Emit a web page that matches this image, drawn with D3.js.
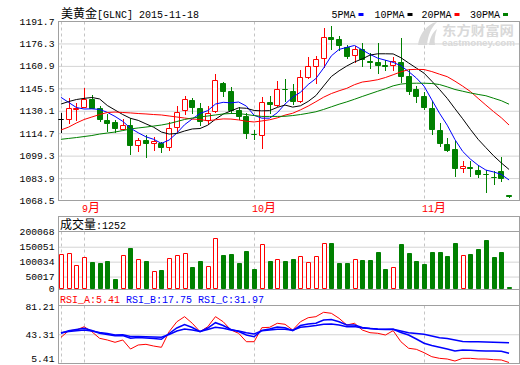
<!DOCTYPE html>
<html>
<head>
<meta charset="utf-8">
<script src="https://cdn.jsdelivr.net/npm/d3@7"></script>
<style>
  body { margin: 0; background: #fff; }
  svg { display: block; }
</style>
</head>
<body>
<div class="chart"></div>
<script>
// Daily candles (59 trading days, late Aug to 2015-11-18)
const opens = [1124.2, 1124.2, 1131.5, 1132.9, 1138.0, 1131.8, 1123.8, 1122.6, 1117.9, 1120.0,
    1106.6, 1110.0, 1108.3, 1107.8, 1104.9, 1118.9, 1130.3, 1137.8, 1132.0, 1123.8,
    1129.6, 1149.1, 1143.7, 1130.6, 1126.5, 1114.3, 1113.5, 1136.3, 1134.0, 1145.0,
    1143.7, 1137.1, 1153.6, 1160.8, 1166.1, 1180.5, 1179.1, 1173.6, 1168.4, 1172.3,
    1164.4, 1163.8, 1161.5, 1161.5, 1163.9, 1154.0, 1144.8, 1140.2, 1131.8, 1116.9,
    1107.3, 1103.6, 1090.6, 1091.5, 1089.4, 1087.0, 1084.6, 1088.7, 1072.3];
const highs = [1128.4, 1138.6, 1135.5, 1145.7, 1140.9, 1133.4, 1127.9, 1123.7, 1124.2, 1124.8,
    1111.4, 1113.5, 1112.1, 1108.9, 1122.6, 1133.4, 1140.2, 1138.6, 1135.1, 1133.4,
    1155.0, 1149.5, 1146.7, 1133.0, 1128.6, 1116.9, 1139.8, 1139.9, 1150.5, 1151.7,
    1148.5, 1157.9, 1166.8, 1167.7, 1186.6, 1188.3, 1181.4, 1175.2, 1174.5, 1176.3,
    1169.7, 1176.8, 1164.6, 1166.8, 1179.8, 1158.8, 1147.4, 1143.0, 1137.0, 1121.7,
    1111.1, 1109.3, 1095.6, 1095.8, 1093.2, 1089.4, 1088.7, 1098.6, 1072.6];
const lows = [1115.7, 1121.9, 1124.0, 1132.5, 1132.0, 1123.0, 1116.5, 1115.5, 1117.6, 1100.4,
    1102.5, 1098.4, 1103.2, 1102.0, 1103.5, 1116.2, 1127.9, 1128.6, 1120.0, 1122.0,
    1128.9, 1139.9, 1128.6, 1124.1, 1111.2, 1110.4, 1104.4, 1128.6, 1133.4, 1137.1,
    1134.7, 1136.3, 1152.4, 1149.3, 1160.3, 1172.3, 1171.5, 1166.6, 1163.6, 1160.8,
    1159.4, 1156.2, 1158.1, 1158.4, 1150.0, 1141.3, 1136.3, 1131.0, 1114.1, 1105.9,
    1102.5, 1085.3, 1088.3, 1085.3, 1084.6, 1074.5, 1079.8, 1082.1, 1071.2];
const closes = [1124.2, 1131.8, 1132.2, 1138.0, 1132.3, 1124.2, 1121.5, 1118.3, 1120.0, 1106.3,
    1110.0, 1108.2, 1109.0, 1105.0, 1118.1, 1128.9, 1138.0, 1132.5, 1123.4, 1128.4,
    1151.2, 1143.9, 1130.6, 1126.2, 1114.6, 1113.8, 1135.8, 1134.5, 1144.8, 1144.7,
    1137.1, 1153.1, 1160.8, 1165.4, 1180.5, 1179.3, 1174.9, 1167.7, 1172.3, 1165.4,
    1163.9, 1161.8, 1160.8, 1164.5, 1154.0, 1143.9, 1140.0, 1132.7, 1117.4, 1107.8,
    1103.2, 1090.6, 1092.2, 1090.8, 1086.7, 1086.7, 1084.3, 1083.7, 1071.6];
const volumes = [124700, 128000, 87800, 114600, 98900, 95500, 102200, 41900, 121300, 145800,
    108900, 102200, 67700, 72000, 111300, 121300, 128000, 82100, 102200, 84400,
    178300, 122300, 125700, 95500, 135700, 75400, 158200, 102200, 107900, 102200,
    108900, 118000, 97900, 118000, 161500, 162500, 95500, 95500, 107900, 105600,
    105600, 132400, 75400, 81100, 159200, 129000, 102200, 92200, 132400, 132400,
    119000, 162500, 121300, 125700, 142400, 172600, 115600, 132400, 1252];

// Moving averages as drawn
const ma5 = [1139.3, 1135.8, 1132.3, 1131.3, 1131.4, 1131.0, 1129.0, 1126.2, 1122.8, 1118.1,
    1115.0, 1112.2, 1110.5, 1107.7, 1110.0, 1114.8, 1120.5, 1124.5, 1128.2, 1130.2,
    1134.7, 1135.9, 1135.5, 1136.1, 1133.3, 1127.0, 1125.0, 1125.0, 1128.7, 1134.7,
    1139.4, 1142.8, 1148.1, 1152.2, 1159.4, 1167.8, 1172.2, 1173.6, 1174.9, 1171.9,
    1168.8, 1166.2, 1164.8, 1163.3, 1161.0, 1157.0, 1152.6, 1147.0, 1137.6, 1128.4,
    1120.2, 1110.3, 1102.2, 1096.9, 1092.7, 1089.4, 1088.1, 1086.4, 1082.6];
const ma10 = [1134.7, 1136.4, 1137.8, 1138.6, 1139.2, 1138.2, 1133.7, 1130.6, 1127.5, 1124.9,
    1123.5, 1121.1, 1118.8, 1115.5, 1114.1, 1114.5, 1116.2, 1117.6, 1117.9, 1120.2,
    1124.3, 1127.8, 1130.0, 1132.1, 1131.8, 1130.3, 1130.0, 1130.2, 1132.4, 1134.0,
    1132.6, 1133.5, 1136.5, 1140.5, 1147.1, 1153.6, 1157.5, 1160.8, 1163.6, 1165.7,
    1168.3, 1169.2, 1169.2, 1169.1, 1166.5, 1162.9, 1159.4, 1155.9, 1150.4, 1144.7,
    1138.6, 1131.5, 1124.6, 1117.3, 1110.5, 1104.8, 1099.2, 1094.3, 1089.8];
const ma20 = [1116.9, 1118.9, 1121.7, 1124.1, 1125.8, 1127.5, 1128.9, 1129.2, 1128.9, 1128.6,
    1128.2, 1127.9, 1127.5, 1127.2, 1126.5, 1125.8, 1125.1, 1124.4, 1124.1, 1123.2,
    1123.9, 1124.5, 1124.4, 1123.8, 1122.9, 1122.4, 1123.1, 1123.9, 1125.2, 1127.1,
    1128.4, 1130.7, 1133.3, 1136.3, 1139.4, 1141.9, 1143.8, 1145.5, 1148.0, 1149.8,
    1150.5, 1151.4, 1152.9, 1154.8, 1156.8, 1158.3, 1158.5, 1158.4, 1157.0, 1155.2,
    1153.5, 1150.4, 1147.0, 1143.3, 1138.6, 1134.0, 1129.5, 1125.3, 1120.3];
const ma30 = [1110.5, 1111.1, 1111.7, 1112.4, 1113.1, 1114.1, 1114.8, 1115.5, 1116.5, 1117.6,
    1118.3, 1118.9, 1119.6, 1120.3, 1121.3, 1122.7, 1124.1, 1125.1, 1125.8, 1126.5,
    1127.2, 1127.9, 1128.2, 1128.2, 1127.5, 1126.8, 1126.2, 1126.2, 1126.2, 1126.3,
    1126.8, 1127.5, 1128.4, 1129.4, 1131.0, 1132.8, 1134.6, 1136.2, 1138.0, 1139.9,
    1141.7, 1143.5, 1145.2, 1147.2, 1148.4, 1148.9, 1149.0, 1149.0, 1148.8, 1148.1,
    1146.5, 1144.7, 1143.5, 1142.3, 1141.3, 1140.4, 1138.7, 1137.0, 1134.6];

// RSI lines
const rsiA = [39.2, 48.1, 49.0, 53.4, 46.7, 37.9, 35.6, 32.5, 35.6, 23.5,
    28.9, 29.8, 27.5, 25.8, 46.7, 60.1, 66.9, 58.0, 46.7, 53.4,
    66.9, 60.1, 49.0, 44.6, 33.3, 33.3, 52.1, 52.6, 58.0, 56.7,
    49.0, 60.1, 65.5, 66.9, 72.8, 71.4, 64.7, 55.7, 58.0, 49.0,
    45.4, 44.6, 42.3, 48.1, 33.3, 24.5, 23.1, 18.6, 13.2, 11.0,
    10.1, 7.4, 11.0, 11.0, 10.1, 10.1, 9.2, 8.8, 5.41];
const rsiB = [44.6, 48.1, 49.7, 51.3, 48.3, 44.6, 43.0, 41.4, 41.6, 37.9,
    38.9, 38.3, 37.6, 36.5, 44.3, 51.7, 56.4, 52.4, 46.7, 51.7,
    58.8, 55.0, 49.7, 47.0, 42.3, 40.0, 48.3, 50.3, 53.0, 52.1,
    48.1, 55.0, 57.1, 58.0, 62.4, 63.1, 60.1, 55.7, 55.7, 52.4,
    51.0, 49.9, 49.7, 49.9, 45.6, 42.3, 36.9, 31.2, 28.2, 25.8,
    23.5, 20.8, 22.2, 21.8, 21.2, 20.8, 20.8, 20.4, 17.75];
const rsiC = [45.4, 47.0, 48.1, 49.0, 47.7, 45.6, 44.3, 42.3, 42.6, 40.3,
    40.3, 40.0, 39.6, 39.2, 43.0, 47.7, 50.3, 49.0, 47.0, 49.7,
    52.6, 51.3, 49.0, 47.7, 45.4, 43.6, 48.1, 49.0, 49.9, 49.9,
    48.6, 52.6, 53.7, 55.0, 56.6, 57.1, 55.7, 53.4, 53.7, 51.7,
    51.0, 50.3, 49.9, 49.9, 47.7, 45.4, 44.3, 43.2, 41.0, 38.7,
    37.6, 35.6, 33.6, 33.3, 33.2, 32.9, 32.5, 32.2, 31.97];

// Tick labels and names
const priceTicks = [1068.5, 1083.9, 1099.3, 1114.7, 1130.1, 1145.5, 1160.9, 1176.3, 1191.7];
const volumeTicks = [0, 50017, 100034, 150051, 200068];
const rsiTicks = [5.41, 43.31, 81.21];
const monthStarts = [3, 25, 47];
const monthNums = ['9', '10', '11'];
const maNames = ['5PMA', '10PMA', '20PMA', '30PMA'];
const maColors = ['#0000ff', '#000000', '#ff0000', '#008000'];
const rsiNames = ['RSI_A', 'RSI_B', 'RSI_C'];
const rsiColors = ['#ff0000', '#0000ff', '#0000ff'];

// Chart sizes
const width = 520;
const height = 365;
const left = 58.5;
const right = 519.5;
const main = {top: 21.5, bottom: 200.5};
const vol = {head: 216.5, top: 231.5, bottom: 289.5};
const rsi = {head: 289.5, top: 305.5, bottom: 363.5};

const MONO = "'Liberation Mono', 'DejaVu Sans Mono', monospace";
const CJK = "'Noto Sans CJK SC', sans-serif";
const GREEN = '#008000';
const RED = '#ff0000';

const svg = d3.select('.chart').append('svg')
    .attr('width', width)
    .attr('height', height)
    .style('background', '#fff');

// Scales
const days = d3.range(closes.length);
const xScale = d3.scaleBand()
    .domain(days)
    .range([57.1, 512.9])
    .paddingInner(0.3)
    .paddingOuter(0.15);
const xMid = i => xScale(i) + xScale.bandwidth() / 2;
const col = i => Math.round(xMid(i));

const yPrice = d3.scaleLinear().domain([1068.5, 1191.7]).range([200.5, 21]);
const yVol = d3.scaleLinear().domain([0, 200068]).range([291.5, 231.8]);
const yRsi = d3.scaleLinear().domain([5.41, 81.21]).range([362.5, 306]);

// Axis with grid lines, labels kept inside the panel
function drawAxis(scale, ticks, fmt, panel, labelMax) {
    svg.append('g')
        .attr('transform', `translate(${left}, 0)`)
        .call(d3.axisLeft(scale).tickValues(ticks).tickSize(0).tickPadding(4).tickFormat(fmt))
        .attr('font-family', MONO)
        .attr('font-size', 9.7)
        .call(g => g.select('.domain').remove())
        .call(g => g.selectAll('.tick > line')
            .attr('x2', right - left)
            .attr('stroke', '#d4d4d4')
            .attr('display', d => scale(d) > panel.top + 1 && scale(d) < panel.bottom - 1 ? null : 'none'))
        .call(g => g.selectAll('.tick > text')
            .attr('fill', '#000')
            .attr('y', d => Math.min(0, labelMax - scale(d))));
}

drawAxis(yPrice, priceTicks, d => d.toFixed(1), main, 999);
drawAxis(yVol, volumeTicks, d => d, vol, 288);
drawAxis(yRsi, rsiTicks, d => d.toFixed(2), rsi, 358);

// Dashed day separators in each panel
const dashDays = [0].concat(monthStarts);
[main, vol, rsi].forEach(p => {
    svg.append('g')
        .selectAll('line')
        .data(dashDays)
        .join('line')
            .attr('x1', i => col(i) + 0.5)
            .attr('x2', i => col(i) + 0.5)
            .attr('y1', p.top)
            .attr('y2', p.bottom)
            .attr('stroke', '#c4c4c4')
            .attr('stroke-dasharray', '3,3');
});

// Panel borders
const border = svg.append('g')
    .attr('fill', 'none')
    .attr('stroke', '#a0a0a0')
    .attr('shape-rendering', 'crispEdges');
border.append('rect').attr('x', left).attr('y', main.top)
    .attr('width', right - left).attr('height', main.bottom - main.top);
border.append('rect').attr('x', left).attr('y', vol.head)
    .attr('width', right - left).attr('height', vol.bottom - vol.head);
border.append('line').attr('x1', left).attr('x2', right).attr('y1', vol.top).attr('y2', vol.top);
border.append('rect').attr('x', left).attr('y', rsi.head)
    .attr('width', right - left).attr('height', rsi.bottom - rsi.head);
border.append('line').attr('x1', left).attr('x2', right).attr('y1', rsi.top).attr('y2', rsi.top);

// Watermark
const mark = svg.append('g').attr('fill', '#d9d9d9');
mark.append('path')
    .attr('d', 'M418,45 C419,36 424,28 433,23 L437,22 C431,28 428,35 427,45 Z M429,45 C430,38 432,33 437,29 C435,35 434,40 435,45 Z');
mark.append('text')
    .attr('x', 442).attr('y', 35)
    .attr('font-family', CJK).attr('font-size', 13).attr('font-weight', 'bold')
    .attr('textLength', 72).attr('lengthAdjust', 'spacingAndGlyphs')
    .text('东方财富网');
mark.append('text')
    .attr('x', 442).attr('y', 46)
    .attr('font-family', "'Liberation Sans', sans-serif").attr('font-size', 8.5).attr('font-weight', 'bold')
    .attr('textLength', 73).attr('lengthAdjust', 'spacingAndGlyphs')
    .text('eastmoney.com');

// Candles
const candleColor = i => closes[i] > opens[i] ? RED : closes[i] < opens[i] ? GREEN : '#000';
const candle = svg.append('g')
    .selectAll('g')
    .data(days)
    .join('g')
        .attr('stroke', candleColor);
candle.append('line')
    .attr('x1', i => col(i) + 0.5)
    .attr('x2', i => col(i) + 0.5)
    .attr('y1', i => Math.round(yPrice(highs[i])))
    .attr('y2', i => Math.round(yPrice(lows[i])) + 1);
candle.append('path')
    .attr('d', i => {
        const top = Math.round(yPrice(Math.max(opens[i], closes[i])));
        const bot = Math.round(yPrice(Math.min(opens[i], closes[i])));
        return `M${col(i) - 2.5},${top + 0.5}h5v${bot - top}h-5Z`;
    })
    .attr('fill', i => closes[i] > opens[i] ? '#fff' : candleColor(i));

// Moving average lines
svg.append('g')
    .attr('fill', 'none')
    .attr('stroke-width', 1)
    .selectAll('path')
    .data([ma5, ma10, ma20, ma30])
    .join('path')
        .attr('stroke', (_, k) => maColors[k])
        .attr('d', d3.line().x((_, i) => xMid(i)).y(v => yPrice(v)));

// Volume bars
svg.append('g')
    .selectAll('path')
    .data(days)
    .join('path')
        .attr('d', i => {
            const top = Math.min(Math.round(yVol(volumes[i])), 287);
            return `M${col(i) - 1.5},${top + 0.5}V${vol.bottom - 1}h4V${top + 0.5}Z`;
        })
        .attr('stroke', i => closes[i] >= opens[i] ? RED : GREEN)
        .attr('fill', i => closes[i] >= opens[i] ? '#fff' : GREEN);

// RSI lines
svg.append('g')
    .attr('fill', 'none')
    .selectAll('path')
    .data([rsiA, rsiB, rsiC])
    .join('path')
        .attr('stroke', (_, k) => rsiColors[k])
        .attr('stroke-width', (_, k) => k === 0 ? 1 : 1.5)
        .attr('d', d3.line().x((_, i) => xMid(i)).y(v => yRsi(v)));

// Title
const title = svg.append('text').attr('x', 61).attr('y', 17.5).attr('fill', '#000');
title.append('tspan').attr('font-family', CJK).attr('font-size', 12).text('美黄金');
title.append('tspan').attr('font-family', MONO).attr('font-size', 10).text('[GLNC] 2015-11-18');

// MA legend
const legendX = [331.5, 374.5, 421.5, 470];
const legend = svg.append('g')
    .selectAll('g')
    .data(maNames)
    .join('g')
        .attr('transform', (_, k) => `translate(${legendX[k]}, 0)`);
legend.append('text')
    .attr('y', 17.5)
    .attr('font-family', MONO)
    .attr('font-size', 10)
    .attr('fill', '#000')
    .text(d => d);
legend.append('rect')
    .attr('x', d => d.length * 6 + 3)
    .attr('y', 13)
    .attr('width', 5)
    .attr('height', 3)
    .attr('fill', (_, k) => maColors[k]);

// Month labels
const months = svg.append('g')
    .selectAll('text')
    .data(monthStarts)
    .join('text')
        .attr('x', i => col(i) - 2)
        .attr('y', 212)
        .attr('fill', RED);
months.append('tspan').attr('font-family', MONO).attr('font-size', 10).text((_, k) => monthNums[k]);
months.append('tspan').attr('font-family', CJK).attr('font-size', 12).text('月');

// Volume header
const volTitle = svg.append('text').attr('x', 60).attr('y', 229).attr('fill', '#000');
volTitle.append('tspan').attr('font-family', CJK).attr('font-size', 12).text('成交量');
volTitle.append('tspan').attr('font-family', MONO).attr('font-size', 10)
    .text(':' + volumes[volumes.length - 1]);

// RSI header
const rsiLast = [rsiA, rsiB, rsiC].map(s => s[s.length - 1]);
const rsiX = [60, 126, 198];
svg.append('g')
    .selectAll('text')
    .data(rsiNames)
    .join('text')
        .attr('x', (_, k) => rsiX[k])
        .attr('y', 302.5)
        .attr('font-family', MONO)
        .attr('font-size', 10)
        .attr('fill', (_, k) => rsiColors[k])
        .text((d, k) => `${d}:${rsiLast[k].toFixed(2)}`);
</script>
</body>
</html>
